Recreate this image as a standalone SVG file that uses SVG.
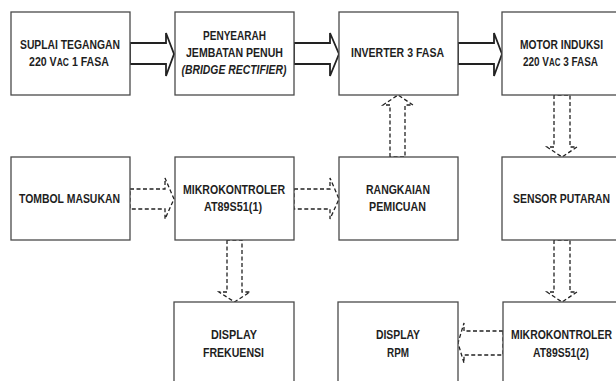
<svg xmlns="http://www.w3.org/2000/svg" width="616" height="381" viewBox="0 0 616 381">
<style>
.box{fill:#fff;stroke:#4a4a4a;stroke-width:1.3}
.t{font-family:"Liberation Sans Narrow","Liberation Sans",Arial,sans-serif;font-weight:bold;font-size:12.5px;fill:#1e1e1e;text-anchor:middle}
.it{font-style:italic}
.sm{font-size:10px}
.solid{fill:none;stroke:#222;stroke-width:1.8;stroke-linejoin:miter}
.dash{fill:none;stroke:#222;stroke-width:1.3;stroke-dasharray:4 2.5}
</style>
<rect width="616" height="381" fill="#fff"/>
<g id="connectors">
<path class="solid" d="M130,43 H166 V33 L174,54 L166,76 V64 H130 Z"/>
<path class="solid" d="M294,43 H330 V33 L339,54 L330,76 V64 H294 Z"/>
<path class="solid" d="M458,43 H494 V33 L502,54 L494,76 V64 H458 Z"/>
<path class="dash" d="M130,189 H165 V178 L174,199 L165,219 V209 H130 Z"/>
<path class="dash" d="M294,189 H330 V178 L339,199 L330,219 V209 H294 Z"/>
<path class="dash" d="M390,157 V105 H383 L398,95 L413,105 H405 V157 Z"/>
<path class="dash" d="M227,240 V292 H219 L234.5,302 L250,292 H242 V240 Z"/>
<path class="dash" d="M554,95 V147 H547 L562,157 L577,147 H570 V95 Z"/>
<path class="dash" d="M554,240 V292 H547 L562,302 L577,292 H570 V240 Z"/>
<path class="dash" d="M503,331 H464 V323 L458,343 L464,363 V355 H503 Z"/>
</g>
<g id="n1"><rect class="box" x="11" y="12" width="119" height="83"/>
<text class="t" x="70" y="49" textLength="100" lengthAdjust="spacingAndGlyphs">SUPLAI TEGANGAN</text>
<text class="t" x="69" y="65.5" textLength="80" lengthAdjust="spacingAndGlyphs">220 V<tspan class="sm">AC</tspan> 1 FASA</text></g>
<g id="n2"><rect class="box" x="175" y="12" width="119" height="83"/>
<text class="t" x="234.5" y="40" textLength="63" lengthAdjust="spacingAndGlyphs">PENYEARAH</text>
<text class="t" x="234.5" y="57" textLength="97" lengthAdjust="spacingAndGlyphs">JEMBATAN PENUH</text>
<text class="t it" x="234" y="74" textLength="105" lengthAdjust="spacingAndGlyphs">(BRIDGE RECTIFIER)</text></g>
<g id="n3"><rect class="box" x="339" y="12" width="119" height="83"/>
<text class="t" x="397.5" y="57" textLength="93" lengthAdjust="spacingAndGlyphs">INVERTER 3 FASA</text></g>
<g id="n4"><rect class="box" x="502" y="12" width="119" height="83"/>
<text class="t" x="561.5" y="49" textLength="83" lengthAdjust="spacingAndGlyphs">MOTOR INDUKSI</text>
<text class="t" x="560.5" y="65.5" textLength="75" lengthAdjust="spacingAndGlyphs">220 V<tspan class="sm">AC</tspan> 3 FASA</text></g>
<g id="n5"><rect class="box" x="11" y="157" width="119" height="83"/>
<text class="t" x="69.5" y="203" textLength="101" lengthAdjust="spacingAndGlyphs">TOMBOL MASUKAN</text></g>
<g id="n6"><rect class="box" x="175" y="157" width="119" height="83"/>
<text class="t" x="234" y="194" textLength="102" lengthAdjust="spacingAndGlyphs">MIKROKONTROLER</text>
<text class="t" x="233" y="211" textLength="58" lengthAdjust="spacingAndGlyphs">AT89S51(1)</text></g>
<g id="n7"><rect class="box" x="339" y="157" width="119" height="83"/>
<text class="t" x="398" y="194" textLength="64" lengthAdjust="spacingAndGlyphs">RANGKAIAN</text>
<text class="t" x="397.5" y="211" textLength="57" lengthAdjust="spacingAndGlyphs">PEMICUAN</text></g>
<g id="n8"><rect class="box" x="502" y="157" width="119" height="83"/>
<text class="t" x="561.5" y="203" textLength="97" lengthAdjust="spacingAndGlyphs">SENSOR PUTARAN</text></g>
<g id="n9"><rect class="box" x="174" y="302" width="120" height="90"/>
<text class="t" x="234" y="339" textLength="46" lengthAdjust="spacingAndGlyphs">DISPLAY</text>
<text class="t" x="233.5" y="357" textLength="61" lengthAdjust="spacingAndGlyphs">FREKUENSI</text></g>
<g id="n10"><rect class="box" x="338" y="302" width="120" height="90"/>
<text class="t" x="398" y="339" textLength="44" lengthAdjust="spacingAndGlyphs">DISPLAY</text>
<text class="t" x="398" y="357" textLength="22" lengthAdjust="spacingAndGlyphs">RPM</text></g>
<g id="n11"><rect class="box" x="503" y="302" width="119" height="90"/>
<text class="t" x="561.5" y="339" textLength="101" lengthAdjust="spacingAndGlyphs">MIKROKONTROLER</text>
<text class="t" x="561" y="357" textLength="56" lengthAdjust="spacingAndGlyphs">AT89S51(2)</text></g>
</svg>
